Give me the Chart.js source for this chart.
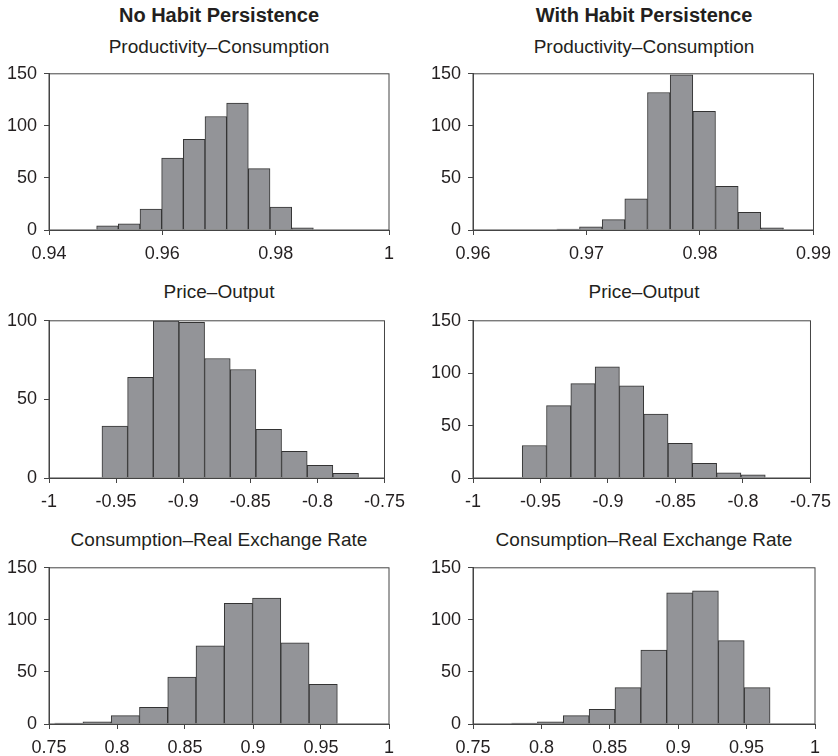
<!DOCTYPE html>
<html>
<head>
<meta charset="utf-8">
<script src="https://cdn.jsdelivr.net/npm/chart.js@4/dist/chart.umd.min.js"></script>
<style>
    html, body {
        margin: 0;
        padding: 0;
        background: #fff;
        overflow: hidden;
    }
    #page {
        position: relative;
        width: 838px;
        height: 756px;
        font-family: "Liberation Sans", Arial, sans-serif;
        color: #231f20;
    }
    .col-title, .panel-title {
        position: absolute;
        text-align: center;
        white-space: nowrap;
        font-size: 19px;
        line-height: 19px;
    }
    .col-title { font-weight: bold; font-size: 20px; line-height: 19px; }
    .box { position: absolute; }
</style>
</head>
<body>
<div id="page"></div>

<script>
// -----------------------
// DATA
// -----------------------

const columnTitles = ['No Habit Persistence', 'With Habit Persistence'];
const rowTitles = ['Productivity\u2013Consumption', 'Price\u2013Output', 'Consumption\u2013Real Exchange Rate'];

// bin centres and counts, left column = no habit, right column = with habit
const prodConsNoHabitBins = [0.95032, 0.95415, 0.95797, 0.96179, 0.96562, 0.96944, 0.97326, 0.97709, 0.98091, 0.98474];
const prodConsNoHabitCounts = [4, 6, 20, 69, 87, 109, 122, 59, 22, 2];

const prodConsHabitBins = [0.96838, 0.97038, 0.97238, 0.97437, 0.97637, 0.97837, 0.98037, 0.98237, 0.98436, 0.98636];
const prodConsHabitCounts = [1, 3, 10, 30, 132, 149, 114, 42, 17, 2];

const priceOutNoHabitBins = [-0.95098, -0.93186, -0.91275, -0.89363, -0.87451, -0.85539, -0.83627, -0.81715, -0.79804, -0.77892];
const priceOutNoHabitCounts = [33, 64, 100, 99, 76, 69, 31, 17, 8, 3];

const priceOutHabitBins = [-0.95455, -0.93654, -0.91854, -0.90054, -0.88253, -0.86453, -0.84652, -0.82852, -0.81052, -0.79251];
const priceOutHabitCounts = [31, 69, 90, 106, 88, 61, 33, 14, 5, 3];

const consRerNoHabitBins = [0.76456, 0.78535, 0.80613, 0.82691, 0.84770, 0.86848, 0.88927, 0.91005, 0.93083, 0.95162];
const consRerNoHabitCounts = [1, 2, 8, 16, 45, 75, 116, 121, 78, 38];

const consRerHabitBins = [0.78764, 0.80654, 0.82543, 0.84433, 0.86323, 0.88212, 0.90102, 0.91992, 0.93882, 0.95771];
const consRerHabitCounts = [1, 2, 8, 14, 35, 71, 126, 128, 80, 35];

// axis ticks
const prodConsNoHabitXTicks = [0.94, 0.96, 0.98, 1];
const prodConsHabitXTicks = [0.96, 0.97, 0.98, 0.99];
const priceOutXTicks = [-1, -0.95, -0.9, -0.85, -0.8, -0.75];
const consRerXTicks = [0.75, 0.8, 0.85, 0.9, 0.95, 1];
const countTicks150 = [0, 50, 100, 150];
const countTicks100 = [0, 50, 100];

// -----------------------
// LAYOUT
// -----------------------

const FONT = '"Liberation Sans", Arial, sans-serif';
const TEXT_COLOR = '#231f20';
const AXIS_COLOR = '#444444';
const BAR_FILL = '#939498';
const BAR_EDGE = '#333333';
const TICK_SIZE = 18;

const Y_AXIS_W = 49;
const X_AXIS_H = 34;
const PAD_TOP = 12;
const PAD_RIGHT = 24;

const colPlotX = [[49, 389], [473, 815]];
const rowPlotY = [[68, 230], [315, 478], [562, 724]];
const rowTitleBaseline = [53, 298, 546];
const colTitleBaseline = 22;

const panels = [
    { row: 0, col: 0, bins: prodConsNoHabitBins, counts: prodConsNoHabitCounts, xMin: 0.94, xMax: 1, xTicks: prodConsNoHabitXTicks, yMax: 150, yTicks: countTicks150 },
    { row: 0, col: 1, bins: prodConsHabitBins, counts: prodConsHabitCounts, xMin: 0.96, xMax: 0.99, xTicks: prodConsHabitXTicks, yMax: 150, yTicks: countTicks150 },
    { row: 1, col: 0, bins: priceOutNoHabitBins, counts: priceOutNoHabitCounts, xMin: -1, xMax: -0.75, xTicks: priceOutXTicks, yMax: 100, yTicks: countTicks100 },
    { row: 1, col: 1, bins: priceOutHabitBins, counts: priceOutHabitCounts, xMin: -1, xMax: -0.75, xTicks: priceOutXTicks, yMax: 150, yTicks: countTicks150 },
    { row: 2, col: 0, bins: consRerNoHabitBins, counts: consRerNoHabitCounts, xMin: 0.75, xMax: 1, xTicks: consRerXTicks, yMax: 150, yTicks: countTicks150 },
    { row: 2, col: 1, bins: consRerHabitBins, counts: consRerHabitCounts, xMin: 0.75, xMax: 1, xTicks: consRerXTicks, yMax: 150, yTicks: countTicks150 }
];

const page = document.getElementById('page');

// baseline of 19px Liberation Sans sits ~16px below the top of a 19px line box
function placeText(cls, text, centerX, baseline) {
    const el = document.createElement('div');
    el.className = cls;
    el.textContent = text;
    el.style.width = '400px';
    el.style.left = (centerX - 200) + 'px';
    el.style.top = (baseline - 16) + 'px';
    page.appendChild(el);
}

columnTitles.forEach((t, c) => {
    const cx = (colPlotX[c][0] + colPlotX[c][1]) / 2;
    placeText('col-title', t, cx, colTitleBaseline);
});

rowTitles.forEach((t, r) => {
    colPlotX.forEach(([x0, x1]) => {
        placeText('panel-title', t, (x0 + x1) / 2, rowTitleBaseline[r]);
    });
});

// closes the plot frame on the top and right sides
const frame = {
    id: 'frame',
    afterDatasetsDraw(chart) {
        const { ctx, chartArea: a } = chart;
        ctx.save();
        ctx.strokeStyle = AXIS_COLOR;
        ctx.lineWidth = 1;
        ctx.strokeRect(a.left, a.top, a.right - a.left, a.bottom - a.top);
        ctx.restore();
    }
};

// -----------------------
// CHARTS
// -----------------------

panels.forEach(p => {
    const [x0, x1] = colPlotX[p.col];
    const [y0, y1] = rowPlotY[p.row];

    const box = document.createElement('div');
    box.className = 'box';
    box.style.left = (x0 - Y_AXIS_W) + 'px';
    box.style.top = (y0 - PAD_TOP) + 'px';
    box.style.width = (x1 - x0 + Y_AXIS_W + PAD_RIGHT) + 'px';
    box.style.height = (y1 - y0 + PAD_TOP + X_AXIS_H) + 'px';
    const canvas = document.createElement('canvas');
    box.appendChild(canvas);
    page.appendChild(box);

    new Chart(canvas, {
        type: 'bar',
        data: {
            datasets: [{
                data: p.bins.map((b, i) => ({ x: b, y: p.counts[i] })),
                backgroundColor: BAR_FILL,
                borderColor: BAR_EDGE,
                borderWidth: 1,
                barPercentage: 1,
                categoryPercentage: 1
            }]
        },
        options: {
            responsive: true,
            maintainAspectRatio: false,
            animation: false,
            layout: { padding: { top: PAD_TOP, right: PAD_RIGHT, left: 0, bottom: 0 } },
            plugins: { legend: { display: false }, tooltip: { enabled: false } },
            scales: {
                x: {
                    type: 'linear',
                    min: p.xMin,
                    max: p.xMax,
                    offset: false,
                    afterBuildTicks: s => { s.ticks = p.xTicks.map(v => ({ value: v })); },
                    afterFit: s => { s.height = X_AXIS_H; },
                    ticks: {
                        callback: v => String(v),
                        color: TEXT_COLOR,
                        font: { family: FONT, size: TICK_SIZE },
                        padding: 8,
                        maxRotation: 0,
                        autoSkip: false
                    },
                    grid: { display: true, drawOnChartArea: false, drawTicks: true, tickLength: 5, color: AXIS_COLOR, offset: false },
                    border: { display: true, color: AXIS_COLOR, width: 1 }
                },
                y: {
                    min: 0,
                    max: p.yMax,
                    afterBuildTicks: s => { s.ticks = p.yTicks.map(v => ({ value: v })); },
                    afterFit: s => { s.width = Y_AXIS_W; },
                    ticks: {
                        color: TEXT_COLOR,
                        font: { family: FONT, size: TICK_SIZE },
                        padding: 7
                    },
                    grid: { display: true, drawOnChartArea: false, drawTicks: true, tickLength: 5, color: AXIS_COLOR },
                    border: { display: true, color: AXIS_COLOR, width: 1 }
                }
            }
        },
        plugins: [frame]
    });
});
</script>
</body>
</html>
